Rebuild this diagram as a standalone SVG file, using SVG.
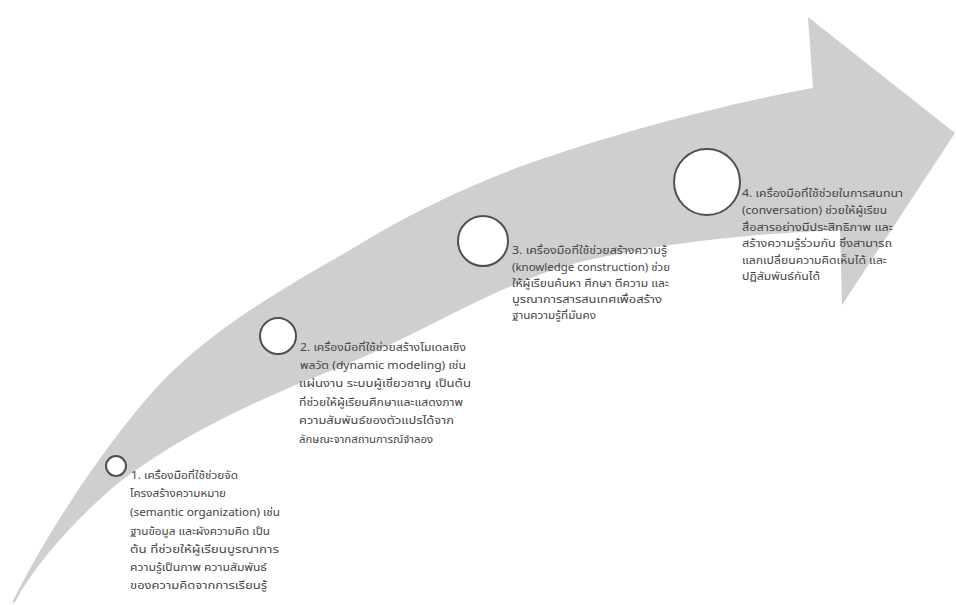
<svg xmlns="http://www.w3.org/2000/svg" width="956" height="605" viewBox="0 0 956 605">
<style>
.band{fill:#cfcfcf;stroke:none}
.dot{fill:#ffffff;stroke:#505050;stroke-width:2}
.t{font-family:"Noto Sans Thai","Noto Sans","DejaVu Sans",sans-serif;font-size:10px;fill:#454545}
</style>
<rect width="956" height="605" fill="#ffffff"/>
<g id="connectors">
<path id="arrow" class="band" d="M12,603 C40,545 100,450 157,387 C210,330 280,290 350,250 C410,213 470,185 530,163 C620,132 720,105 813,88 L808,17 L955,133 L842,305 L840,230 C760,233 660,243 580,262 C500,282 420,335 340,367 C260,398 170,440 110,490 C70,525 35,565 15,602 Z"/>
</g>
<g id="node1">
<circle class="dot" cx="116" cy="466" r="10"/>
<text class="t" x="131" y="479" textLength="107" lengthAdjust="spacingAndGlyphs">1. เครื่องมือที่ใช้ช่วยจัด</text>
<text class="t" x="130" y="497" textLength="96" lengthAdjust="spacingAndGlyphs">โครงสร้างความหมาย</text>
<text class="t" x="130" y="516" textLength="150" lengthAdjust="spacingAndGlyphs">(semantic organization) เช่น</text>
<text class="t" x="130" y="535" textLength="140" lengthAdjust="spacingAndGlyphs">ฐานข้อมูล และผังความคิด เป็น</text>
<text class="t" x="130" y="553" textLength="149" lengthAdjust="spacingAndGlyphs">ต้น ที่ช่วยให้ผู้เรียนบูรณาการ</text>
<text class="t" x="130" y="571" textLength="137" lengthAdjust="spacingAndGlyphs">ความรู้เป็นภาพ ความสัมพันธ์</text>
<text class="t" x="130" y="589" textLength="137" lengthAdjust="spacingAndGlyphs">ของความคิดจากการเรียนรู้</text>
</g>
<g id="node2">
<circle class="dot" cx="278" cy="336" r="18"/>
<text class="t" x="300" y="351" textLength="166" lengthAdjust="spacingAndGlyphs">2. เครื่องมือที่ใช้ช่วยสร้างโมเดลเชิง</text>
<text class="t" x="300" y="369" textLength="166" lengthAdjust="spacingAndGlyphs">พลวัต (dynamic modeling) เช่น</text>
<text class="t" x="299" y="387" textLength="172" lengthAdjust="spacingAndGlyphs">แผ่นงาน ระบบผู้เชี่ยวชาญ เป็นต้น</text>
<text class="t" x="299" y="406" textLength="164" lengthAdjust="spacingAndGlyphs">ที่ช่วยให้ผู้เรียนศึกษาและแสดงภาพ</text>
<text class="t" x="299" y="424" textLength="155" lengthAdjust="spacingAndGlyphs">ความสัมพันธ์ของตัวแปรได้จาก</text>
<text class="t" x="299" y="443" textLength="134" lengthAdjust="spacingAndGlyphs">ลักษณะจากสถานการณ์จำลอง</text>
</g>
<g id="node3">
<circle class="dot" cx="483" cy="241" r="25"/>
<text class="t" x="512" y="254" textLength="155" lengthAdjust="spacingAndGlyphs">3. เครื่องมือที่ใช้ช่วยสร้างความรู้</text>
<text class="t" x="512" y="271" textLength="158" lengthAdjust="spacingAndGlyphs">(knowledge construction) ช่วย</text>
<text class="t" x="512" y="287" textLength="157" lengthAdjust="spacingAndGlyphs">ให้ผู้เรียนค้นหา ศึกษา ตีความ และ</text>
<text class="t" x="512" y="303" textLength="150" lengthAdjust="spacingAndGlyphs">บูรณาการสารสนเทศเพื่อสร้าง</text>
<text class="t" x="512" y="319" textLength="84" lengthAdjust="spacingAndGlyphs">ฐานความรู้ที่มั่นคง</text>
</g>
<g id="node4">
<circle class="dot" cx="707" cy="182" r="33"/>
<text class="t" x="742" y="197" textLength="161" lengthAdjust="spacingAndGlyphs">4. เครื่องมือที่ใช้ช่วยในการสนทนา</text>
<text class="t" x="742" y="214" textLength="145" lengthAdjust="spacingAndGlyphs">(conversation) ช่วยให้ผู้เรียน</text>
<text class="t" x="742" y="231" textLength="151" lengthAdjust="spacingAndGlyphs">สื่อสารอย่างมีประสิทธิภาพ และ</text>
<text class="t" x="742" y="247" textLength="150" lengthAdjust="spacingAndGlyphs">สร้างความรู้ร่วมกัน ซึ่งสามารถ</text>
<text class="t" x="742" y="264" textLength="145" lengthAdjust="spacingAndGlyphs">แลกเปลี่ยนความคิดเห็นได้ และ</text>
<text class="t" x="742" y="280" textLength="78" lengthAdjust="spacingAndGlyphs">ปฏิสัมพันธ์กันได้</text>
</g>
</svg>
